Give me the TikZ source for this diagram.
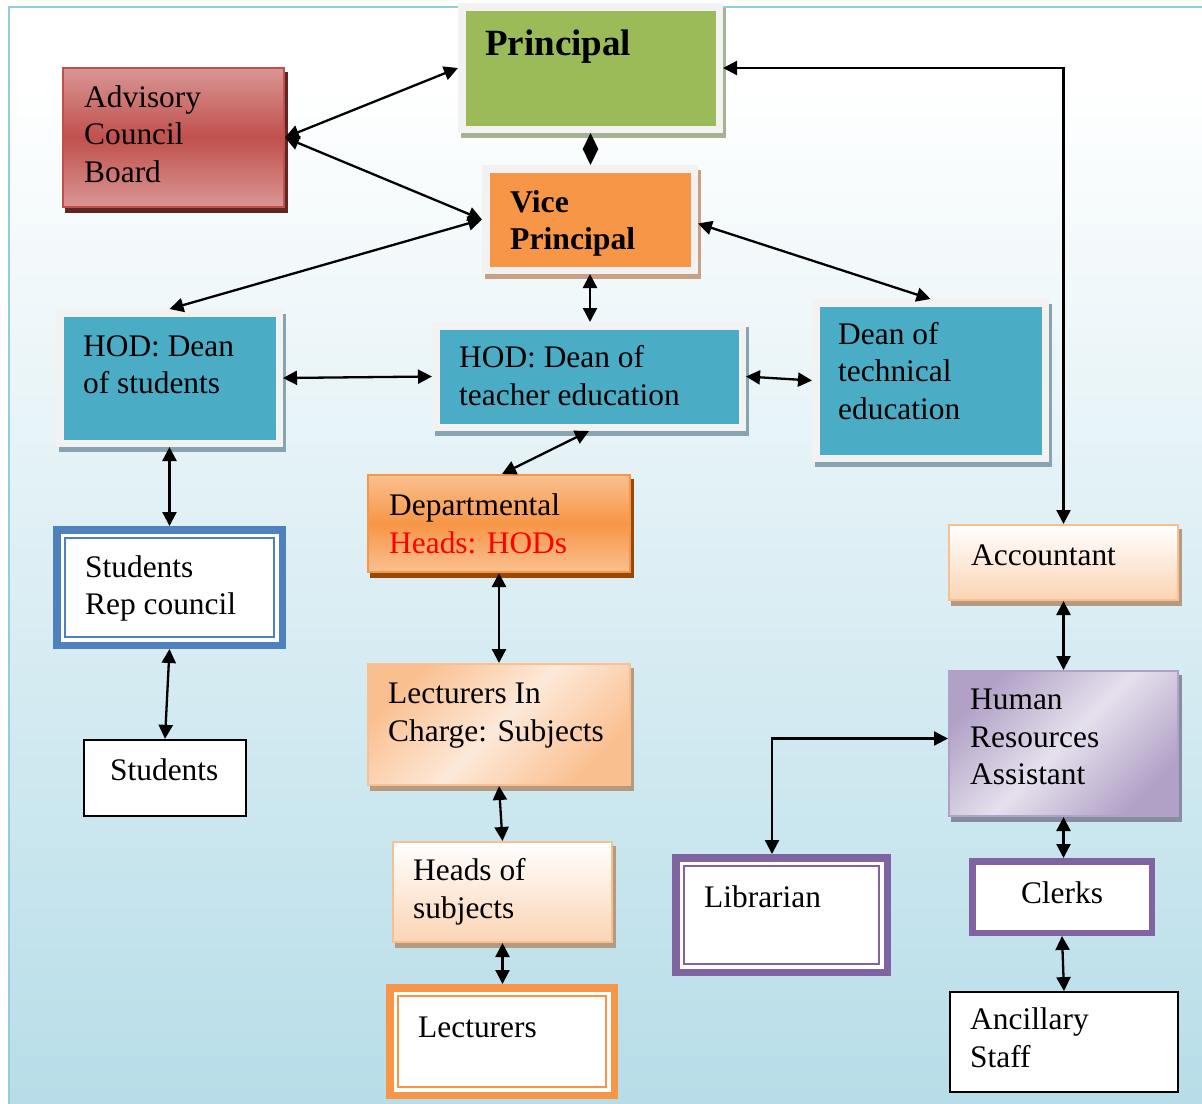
\documentclass[tikz,border=0pt]{standalone}
\usepackage{fontspec}
\setmainfont{Liberation Serif}
\usetikzlibrary{arrows.meta,shadows}
\definecolor{framebl}{RGB}{146,205,220}
\definecolor{bgbot}{RGB}{183,221,232}
\definecolor{framegray}{RGB}{242,242,242}
\definecolor{advlight}{RGB}{217,150,148}
\definecolor{advred}{RGB}{192,80,77}
\definecolor{advsh}{RGB}{99,37,35}
\definecolor{pgreen}{RGB}{155,187,89}
\definecolor{pgreensh}{RGB}{166,179,146}
\definecolor{vorange}{RGB}{247,150,70}
\definecolor{vorangesh}{RGB}{201,160,132}
\definecolor{teal}{RGB}{75,172,198}
\definecolor{tealsh}{RGB}{134,165,176}
\definecolor{deptlight}{RGB}{250,192,144}
\definecolor{deptsh}{RGB}{152,72,7}
\definecolor{peachA}{RGB}{250,191,143}
\definecolor{peachB}{RGB}{253,233,217}
\definecolor{peachC}{RGB}{251,212,180}
\definecolor{peachsh}{RGB}{180,154,128}
\definecolor{hrA}{RGB}{178,161,199}
\definecolor{hrB}{RGB}{229,224,236}
\definecolor{hrsh}{RGB}{132,142,160}
\definecolor{dblblue}{RGB}{79,129,189}
\definecolor{dblpurple}{RGB}{128,100,162}
\newcommand\bodyfont{\fontsize{31.4}{37.5}\selectfont}
\begin{document}
\begin{tikzpicture}[x=1pt,y=-1pt,
  box/.style={rectangle, inner sep=0pt},
  framed/.style={box, draw=framegray, line width=7.5pt, fill=#1},
  shadowed/.style={general shadow={fill=#1, draw=#1, shadow xshift=3pt, shadow yshift=-5pt}},
  thinbox/.style={box, draw=#1, line width=2pt},
  dblbox/.style={box, draw=#1, line width=7.5pt, fill=white},
  plainbox/.style={box, draw=black, line width=1.8pt, fill=white},
  diag/.style 2 args={top color=#1, bottom color=#1, middle color=#2, shading angle=45},
  txt/.style={inner sep=0pt, anchor=base west, align=left, font=\bodyfont},
  conn/.style={line width=2.3pt, {Triangle[length=14pt,width=14pt]}-{Triangle[length=14pt,width=14pt]}},
  diam/.style={line width=2.3pt, {Triangle[length=16pt,width=15pt]}-{Triangle[length=16pt,width=15pt]}}
]
\useasboundingbox (0,0) rectangle (1202,1103);
% background
\fill[white] (0,0) rectangle (1202,1103);
\shade[top color=white, bottom color=bgbot] (9,80) rectangle (1202,1103);
\draw[framebl, line width=2pt] (1215,7) -- (9,7) -- (9,1115);

% boxes
\node[thinbox=advred, top color=advlight, bottom color=advlight, middle color=advred,
  shadowed=advsh, minimum width=221pt, minimum height=139pt] (advisory) at (173.5,137.5) {};
\node[framed=pgreen, shadowed=pgreensh, minimum width=257.5pt, minimum height=122.5pt] (principal) at (590.5,68) {};
\node[framed=vorange, shadowed=vorangesh, minimum width=208.5pt, minimum height=101.5pt] (vice) at (590,219.5) {};
\node[framed=teal, shadowed=tealsh, minimum width=219.5pt, minimum height=130.5pt] (hodS) at (169.5,378) {};
\node[framed=teal, shadowed=tealsh, minimum width=306.5pt, minimum height=101.5pt] (hodT) at (589,376.5) {};
\node[framed=teal, shadowed=tealsh, minimum width=229.5pt, minimum height=155.5pt] (deanTech) at (930.5,380.5) {};
\node[thinbox=vorange, top color=deptlight, bottom color=deptlight, middle color=vorange,
  shadowed=deptsh, minimum width=262pt, minimum height=97pt] (dept) at (499,523.5) {};
\node[dblbox=dblblue, minimum width=225.5pt, minimum height=115.5pt] (studRep) at (169.5,587.5) {};
\node[plainbox, minimum width=162.5pt, minimum height=76.5pt] (students) at (165,778) {};
\node[thinbox=peachA, diag={peachA}{peachB}, shadowed=peachsh, minimum width=262pt, minimum height=121pt] (lic) at (499,724.5) {};
\node[thinbox=peachA, top color=white, bottom color=peachC, shadowed=peachsh, minimum width=219pt, minimum height=100pt] (hos) at (502.5,892) {};
\node[dblbox=vorange, minimum width=224.5pt, minimum height=107.5pt] (lect) at (502,1041.5) {};
\node[dblbox=dblpurple, minimum width=211.5pt, minimum height=114.5pt] (lib) at (781.5,915) {};
\node[thinbox=peachA, top color=white, bottom color=peachC, shadowed=peachsh, minimum width=229pt, minimum height=75pt] (acct) at (1063.5,562.5) {};
\node[thinbox=hrA, diag={hrA}{hrB}, shadowed=hrsh, minimum width=229pt, minimum height=145pt] (hr) at (1063.5,743.5) {};
\node[box, draw=dblpurple, line width=6.5pt, fill=white, minimum width=179.5pt, minimum height=71.5pt] (clerks) at (1062,897) {};
\node[plainbox, minimum width=228pt, minimum height=100pt] (anc) at (1064,1042) {};

% inner lines of double borders
\draw[dblblue, line width=1.8pt] ([shift={(12,12)}]studRep.north west) rectangle ([shift={(-12,-12)}]studRep.south east);
\draw[vorange, line width=1.8pt] ([shift={(12,12)}]lect.north west) rectangle ([shift={(-12,-12)}]lect.south east);
\draw[dblpurple, line width=1.8pt] ([shift={(12,12)}]lib.north west) rectangle ([shift={(-12,-12)}]lib.south east);

% texts (multi-line nodes are placed by the baseline of their last line)
\node[txt] (t-advisory) at (84,182) {Advisory\\Council\\Board};
\node[txt, font=\fontsize{37}{44}\selectfont\bfseries] (t-principal) at (485,55) {Principal};
\node[txt, font=\fontsize{31.7}{37.5}\selectfont\bfseries] (t-vice) at (510,249.5) {Vice\\Principal};
\node[txt] (t-hodS) at (83,393.5) {HOD: Dean\\of students};
\node[txt] (t-hodT) at (459,405) {HOD: Dean of\\teacher education};
\node[txt] (t-deanTech) at (838,419) {Dean of\\technical\\education};
\node[txt] (t-dept) at (389,553) {Departmental\\\textcolor{red}{Heads: HODs}};
\node[txt] (t-studRep) at (85,614.5) {Students\\Rep council};
\node[txt] (t-students) at (110,780) {Students};
\node[txt] (t-lic) at (388,741) {Lecturers In\\Charge: Subjects};
\node[txt] (t-hos) at (413,918) {Heads of\\subjects};
\node[txt] (t-lect) at (418,1037) {Lecturers};
\node[txt] (t-lib) at (704,907) {Librarian};
\node[txt] (t-acct) at (971,565) {Accountant};
\node[txt] (t-hr) at (970,784.5) {Human\\Resources\\Assistant};
\node[txt, anchor=base] (t-clerks) at (1062,903) {Clerks};
\node[txt] (t-anc) at (970,1067) {Ancillary\\Staff};

% connectors
\draw[conn] (advisory.east) -- (principal.west);
\draw[conn] (advisory.east) -- (vice.west);
\draw[diam] (principal.south) -- (principal.south |- vice.north);
\draw[conn] (vice.west) -- (hodS.north);
\draw[conn] ([shift={(0,4)}]vice.east) -- (deanTech.north);
\draw[conn] (vice.south) -- (vice.south |- hodT.north);
\draw[conn] (hodS.east) -- (hodT.west);
\draw[conn] (hodT.east) -- (deanTech.west);
\draw[conn] (hodT.south) -- ([shift={(3,0)}]dept.north);
\draw[conn] (hodS.south) -- (studRep.north);
\draw[conn] (studRep.south) -- (students.north);
\draw[conn] (dept.south) -- (lic.north);
\draw[conn] (lic.south) -- (hos.north);
\draw[conn] (hos.south) -- (hos.south |- lect.north);
\draw[conn] (principal.east) -| (acct.north);
\draw[conn] (acct.south) -- (hr.north);
\draw[conn] ([shift={(0,-5)}]hr.west) -| ([shift={(-9.5,0)}]lib.north);
\draw[conn] (hr.south) -- (hr.south |- clerks.north);
\draw[conn] (clerks.south) -- (anc.north);
\end{tikzpicture}
\end{document}
